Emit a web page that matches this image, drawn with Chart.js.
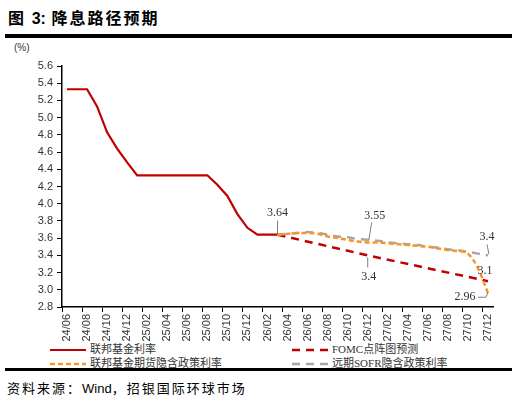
<!DOCTYPE html>
<html>
<head>
<meta charset="utf-8">
<script src="https://cdn.jsdelivr.net/npm/chart.js@4"></script>
<style>
  body { margin: 0; background: #fff; width: 512px; height: 405px; position: relative; overflow: hidden; }
  .title { position: absolute; left: 8px; top: 7px; font: bold 16px/20px "Noto Sans CJK SC", "Liberation Sans", sans-serif; letter-spacing: 2px; color: #000; }
  .title b { font-family: "Liberation Sans", Arial, sans-serif; letter-spacing: 0; }
  .bar { position: absolute; left: 5px; right: 0; background: #000; }
  .unit { position: absolute; left: 14px; top: 42px; font: 10px "Liberation Sans", Arial, sans-serif; color: #333; }
  #wrap { position: absolute; left: 0; top: 40px; width: 512px; height: 302px; }
  .leg { position: absolute; height: 13px; font: 11px/13px "Liberation Serif", "Noto Sans CJK SC", serif; color: #333; white-space: nowrap; display: flex; align-items: center; }
  .leg svg { margin-right: 4px; }
  .src { position: absolute; left: 7px; top: 379px; font: 13px/18px "Noto Sans CJK SC", sans-serif; letter-spacing: 2px; color: #000; }
  .src span { font-family: "Liberation Sans", Arial, sans-serif; letter-spacing: 0; }
</style>
</head>
<body>
<div class="title">图 <b>3:</b> 降息路径预期</div>
<div class="bar" style="top:34px;height:4px"></div>
<div class="unit">(%)</div>
<div id="wrap"><canvas id="c"></canvas></div>
<div class="leg" style="left:50px;top:343px"><svg width="36" height="4"><line x1="0" y1="2" x2="36" y2="2" stroke="#C00000" stroke-width="2"/></svg>联邦基金利率</div>
<div class="leg" style="left:292px;top:343px"><svg width="36" height="4"><line x1="0" y1="2" x2="36" y2="2" stroke="#C00000" stroke-width="2.5" stroke-dasharray="8,6"/></svg>FOMC点阵图预测</div>
<div class="leg" style="left:50px;top:357px"><svg width="36" height="4"><line x1="0" y1="2" x2="36" y2="2" stroke="#FF9224" stroke-width="2.5" stroke-dasharray="5,3"/></svg>联邦基金期货隐含政策利率</div>
<div class="leg" style="left:292px;top:357px"><svg width="36" height="4"><line x1="0" y1="2" x2="36" y2="2" stroke="#A6A6A6" stroke-width="2.5" stroke-dasharray="8,6"/></svg>远期SOFR隐含政策利率</div>
<div class="bar" style="top:368px;height:3px"></div>
<div class="src">资料来源：<span>Wind</span>，招银国际环球市场</div>
<script>
const months = [
  '24/06','24/07','24/08','24/09','24/10','24/11','24/12',
  '25/01','25/02','25/03','25/04','25/05','25/06','25/07','25/08','25/09','25/10','25/11','25/12',
  '26/01','26/02','26/03','26/04','26/05','26/06','26/07','26/08','26/09','26/10','26/11','26/12',
  '27/01','27/02','27/03','27/04','27/05','27/06','27/07','27/08','27/09','27/10','27/11','27/12'
];
const _ = null;
const fedFunds = [5.33,5.33,5.33,5.13,4.83,4.64,4.48,
  4.33,4.33,4.33,4.33,4.33,4.33,4.33,4.33,4.22,4.09,3.88,3.72,
  3.64,3.64,3.64,_,_,_,_,_,_,_,_,_,
  _,_,_,_,_,_,_,_,_,_,_,_];
const fomcDots = [_,_,_,_,_,_,_,
  _,_,_,_,_,_,_,_,_,_,_,_,
  _,_,3.64,_,_,_,_,_,_,_,_,3.40,
  _,_,_,_,_,_,_,_,_,_,_,3.10];
const futures = [_,_,_,_,_,_,_,
  _,_,_,_,_,_,_,_,_,_,_,_,
  _,_,3.64,3.65,3.66,3.66,3.65,3.62,3.60,3.58,3.56,3.55,
  3.55,3.54,3.53,3.52,3.51,3.50,3.48,3.46,3.45,3.42,3.25,2.96];
const sofr = [_,_,_,_,_,_,_,
  _,_,_,_,_,_,_,_,_,_,_,_,
  _,_,3.64,3.65,3.66,3.67,3.66,3.64,3.62,3.61,3.59,3.58,
  3.57,3.55,3.54,3.53,3.52,3.50,3.49,3.47,3.46,3.44,3.42,3.40];

// labelled points: dataset index, month index, text
const callouts = [
  { ds: 2, i: 21, text: '3.64' },
  { ds: 2, i: 30, text: '3.55' },
  { ds: 1, i: 30, text: '3.4' },
  { ds: 3, i: 42, text: '3.4' },
  { ds: 1, i: 42, text: '3.1' },
  { ds: 2, i: 42, text: '2.96' }
];
// label offsets and leader lines (relative to point, px)
const calloutStyle = [
  { dx: 0, dy: -22, lead: [[0, 0], [0, -14]] },
  { dx: 7, dy: -27, lead: [[1, -2], [4, -20]] },
  { dx: 1, dy: 21, lead: [[0, 2], [0, 12]] },
  { dx: -1, dy: -19, lead: [[1, -1], [-1, -11]] },
  { dx: -3, dy: -10, lead: null },
  { dx: -23, dy: 4, lead: [[0, -1], [-2, 4], [-10, 4]] }
];

const calloutPlugin = {
  id: 'callouts',
  afterDatasetsDraw(chart) {
    const ctx = chart.ctx;
    const xs = chart.scales.x, ys = chart.scales.y;
    const sets = chart.data.datasets;
    ctx.save();
    ctx.font = '12px "Liberation Serif", serif';
    ctx.fillStyle = '#333';
    ctx.textAlign = 'center';
    ctx.textBaseline = 'middle';
    callouts.forEach((c, k) => {
      const st = calloutStyle[k];
      const px = xs.getPixelForValue(c.i);
      const py = ys.getPixelForValue(sets[c.ds].data[c.i]);
      if (st.lead) {
        ctx.strokeStyle = '#7F7F7F';
        ctx.lineWidth = 1;
        ctx.beginPath();
        st.lead.forEach((p, j) => j ? ctx.lineTo(px + p[0], py + p[1]) : ctx.moveTo(px + p[0], py + p[1]));
        ctx.stroke();
      }
      ctx.fillText(c.text, px + st.dx, py + st.dy);
    });
    ctx.restore();
  }
};

const tickFont = { family: '"Liberation Sans", Arial, sans-serif', size: 11 };

new Chart(document.getElementById('c'), {
  type: 'line',
  data: {
    labels: months,
    datasets: [
      { label: '联邦基金利率', data: fedFunds, borderColor: '#C00000', borderWidth: 2.2, tension: 0, order: 4 },
      { label: 'FOMC点阵图预测', data: fomcDots, borderColor: '#C00000', borderWidth: 2.5, borderDash: [8, 6], spanGaps: true, tension: 0, order: 3 },
      { label: '联邦基金期货隐含政策利率', data: futures, borderColor: '#FF9224', borderWidth: 2.5, borderDash: [5, 3], cubicInterpolationMode: 'monotone', order: 1 },
      { label: '远期SOFR隐含政策利率', data: sofr, borderColor: '#A6A6A6', borderWidth: 2.5, borderDash: [8, 6], cubicInterpolationMode: 'monotone', order: 2 }
    ]
  },
  options: {
    animation: false,
    responsive: true,
    maintainAspectRatio: false,
    elements: { point: { radius: 0 }, line: { fill: false } },
    layout: { padding: { top: 26, right: 19, left: 0, bottom: 0 } },
    plugins: { legend: { display: false }, tooltip: { enabled: false } },
    scales: {
      x: {
        offset: true,
        afterFit(s) { s.height = 35; },
        border: { color: '#000', width: 1.5 },
        grid: {
          offset: true,
          drawOnChartArea: false,
          tickLength: 5,
          color: ctx => (ctx.index % 2 === 0 ? '#000' : 'rgba(0,0,0,0)')
        },
        ticks: {
          autoSkip: false,
          minRotation: 90,
          maxRotation: 90,
          padding: 2,
          color: '#333',
          font: tickFont,
          callback: (v, i) => (i % 2 === 0 ? months[i] : '')
        }
      },
      y: {
        min: 2.8,
        max: 5.6,
        afterFit(s) { s.width = 62; },
        border: { color: '#000', width: 1.5 },
        grid: { drawOnChartArea: false, tickLength: 5, color: '#000' },
        ticks: { stepSize: 0.2, padding: 4, color: '#333', font: tickFont, callback: v => v.toFixed(1) }
      }
    }
  },
  plugins: [calloutPlugin]
});
</script>
</body>
</html>
